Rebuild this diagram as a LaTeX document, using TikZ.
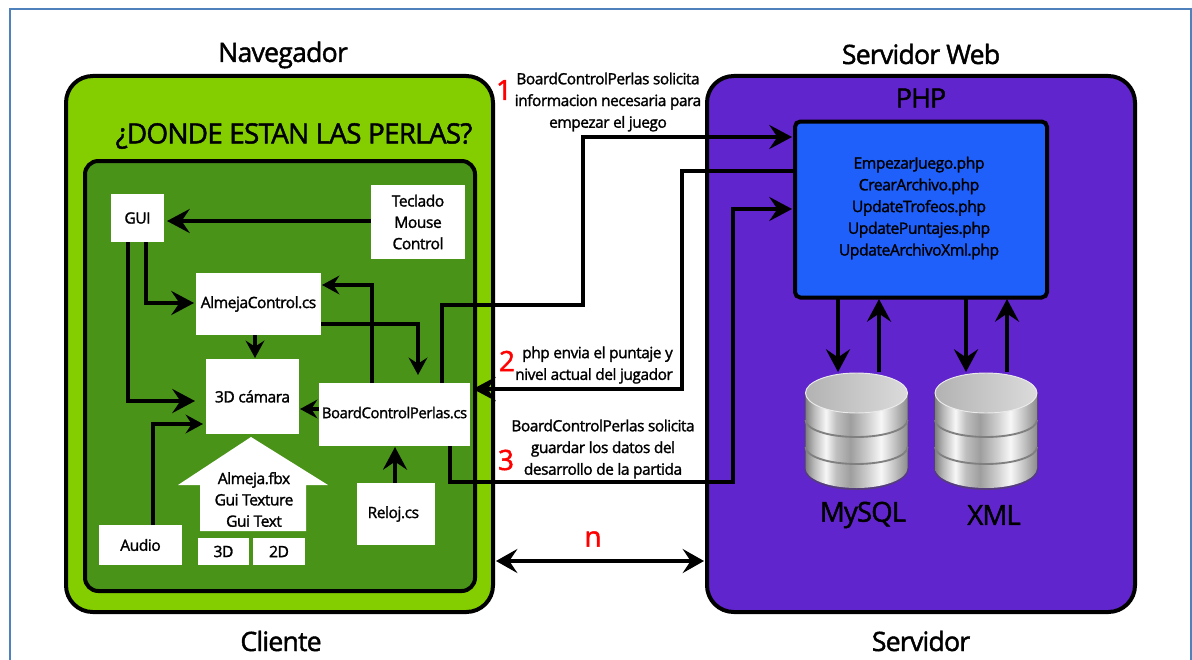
\documentclass[tikz,border=0pt]{standalone}
\usepackage{fontspec}
\setmainfont{Open Sans}[LetterSpace=-3,FakeBold=1.6]
\usetikzlibrary{arrows.meta,calc}
\definecolor{frameblue}{HTML}{4F81BD}
\definecolor{limeg}{HTML}{84CE00}
\definecolor{darkg}{HTML}{4A9319}
\definecolor{purp}{HTML}{6025CC}
\definecolor{phpblue}{HTML}{1F5FFA}
\pgfdeclarehorizontalshading{dbshade}{100bp}{
 color(0bp)=(black!50);color(25bp)=(black!50);color(29bp)=(black!28);color(35bp)=(black!3);
 color(40bp)=(black!25);color(47bp)=(black!38);color(55bp)=(black!20);color(62bp)=(black!3);
 color(68bp)=(black!22);color(75bp)=(black!45);color(100bp)=(black!45)}
\tikzset{
 x=0.75pt,y=-0.75pt,
 wbox/.style={fill=white,draw=none,inner sep=0pt,align=center,font=\fontsize{11.7}{16}\selectfont,text=black},
 conn/.style={draw=black,line width=3pt,-{Stealth[length=17pt,width=18pt,inset=6pt]}},
 connsm/.style={draw=black,line width=3pt,-{Stealth[length=13pt,width=14pt,inset=4.5pt]}},
 both/.style={draw=black,line width=3pt,{Stealth[length=16pt,width=18pt,inset=6pt]}-{Stealth[length=16pt,width=18pt,inset=6pt]}},
 title/.style={font=\fontsize{20}{24}\selectfont,text=black,inner sep=0pt},
 note/.style={font=\fontsize{11.6}{16.3}\selectfont,align=center,text=black,inner sep=0pt},
 num/.style={font=\fontsize{21}{24}\selectfont,text=red,inner sep=0pt},
 dbtext/.style={font=\fontsize{20.6}{24}\selectfont,text=black,inner sep=0pt},
}
\newcommand{\pbox}[6]{\node[wbox,minimum width=#4*0.75pt-#2*0.75pt,minimum height=#5*0.75pt-#3*0.75pt] (#1) at ({(#2+#4)/2},{(#3+#5)/2}) {#6};}
\newcommand{\dbcyl}[2]{%
 \begin{scope}[shift={(#1,#2)}]
  \fill[black!70,opacity=.6] (-52,0) -- (-52,76) arc[x radius=52,y radius=21,start angle=180,end angle=0] -- (52,0) -- cycle;
  \shade[shading=dbshade]
     (-51,0) -- (-51,75) arc[x radius=51,y radius=20,start angle=180,end angle=0] -- (51,0) -- cycle;
  \draw[black!50,line width=1.4pt] (-51,27) arc[x radius=51,y radius=17,start angle=180,end angle=0];
  \draw[black!50,line width=1.4pt] (-51,54) arc[x radius=51,y radius=17,start angle=180,end angle=0];
  \shade[left color=black!30,right color=black!14,draw=black!8,line width=.7pt]
     (0,0) ellipse[x radius=51,y radius=20];
 \end{scope}}
\begin{document}
\begin{tikzpicture}
\useasboundingbox (0,0) rectangle (1192,660);
\fill[white] (0,0) rectangle (1192,660);
\draw[frameblue,line width=1.5pt] (10,662) -- (10,9) -- (1190.5,9) -- (1190.5,662);

% containers
\draw[fill=limeg,line width=3pt,rounded corners=20pt] (66,76) rectangle (493,612);
\draw[fill=darkg,line width=3pt,rounded corners=10pt] (85,161) rectangle (475,591);
\draw[fill=purp,line width=3pt,rounded corners=20pt] (707,76) rectangle (1135,612);
\node[draw=black,fill=phpblue,line width=3pt,rounded corners=4pt,minimum width=252*0.75pt,minimum height=176*0.75pt,inner sep=0pt] (php) at (921,209.5) {};
\node[inner sep=0pt,align=center,font=\fontsize{11.8}{16.3}\selectfont] (phplist) at (919,208)
 {EmpezarJuego.php\\CrearArchivo.php\\UpdateTrofeos.php\\UpdatePuntajes.php\\UpdateArchivoXml.php};

% titles
\node[title] (tnav) at (283,55) {Navegador};
\node[title] (tsrv) at (921,54) {Servidor Web};
\node[title] (tcli) at (281,641) {Cliente};
\node[title] (tser) at (921,641) {Servidor};
\node[font=\fontsize{21}{24}\selectfont,inner sep=0pt] (tgame) at (294,136) {¿DONDE ESTAN LAS PERLAS?};
\node[font=\fontsize{20}{24}\selectfont,inner sep=0pt] (tphp) at (921,98) {PHP};

% boxes
\pbox{gui}{111}{194}{164}{242}{GUI}
\pbox{tec}{371}{185}{465}{259}{Teclado\\Mouse\\Control}
\pbox{alm}{196}{273}{321}{335}{AlmejaControl.cs}
\pbox{cam}{206}{359}{299}{434}{3D cámara}
\pbox{brd}{319}{383}{470}{446}{\fontsize{11.2}{16}\selectfont\raisebox{3pt}{BoardControlPerlas.cs}}
\pbox{rel}{357}{483}{435}{545}{\hspace*{-4pt}Reloj.cs}
\pbox{aud}{99}{525}{182}{565}{Audio}
\pbox{d3}{198}{538}{249}{565}{3D}
\pbox{d2}{253}{538}{305}{565}{2D}
\draw[fill=white,draw=none] (251,437) -- (328,485) -- (306,485) -- (306,531) -- (200,531) -- (200,485) -- (178,485) -- cycle;
\node[wbox,fill=none] (hse) at (254,499.5) {Almeja.fbx\\Gui Texture\\Gui Text};

% named connector ends
\coordinate (phpA) at (792,137);
\coordinate (phpB) at (795,171);
\coordinate (phpC) at (792,209);
\coordinate (brdIn) at (473,389);

% internal connectors
\draw[conn] (tec.west |- 0,221) -- (167,221);
\draw[conn] (128,242) -- (128,401) -- (195,401);
\draw[conn] (146,242) -- (146,303) -- (194,303);
\draw[connsm] (255,335) -- (255,358);
\draw[connsm] (319,409) -- (300,409);
\draw[connsm] (153,525) -- (153,424) -- (203,424);
\draw[conn] (395,483) -- (395,447);
\draw[connsm] (372,383) -- (372,285) -- (322,285);
\draw[connsm] (321,324) -- (418,324) -- (418,375);

% external connectors
\draw[conn] (442,383) -- (442,305) -- (583,305) -- (583,137) -- (phpA);
\draw[conn] (phpB) -- (682,171) -- (682,389) -- (brdIn);
\draw[conn] (450,446) -- (450,482) -- (733,482) -- (733,209) -- (phpC);
\draw[both] (496,561) -- (704,561);

% databases
\dbcyl{856.5}{393}
\dbcyl{986}{393}
\draw[conn] (838,297) -- (838,372);
\draw[conn] (879,372) -- (879,299);
\draw[conn] (966,297) -- (966,372);
\draw[conn] (1007,372) -- (1007,299);
\node[dbtext] (lmy) at (863,515) {MySQL};
\node[dbtext] (lxm) at (994,515) {XML};

% labels
\node[num] (n1) at (504,90) {1};
\node[num] (n2) at (507,361) {2};
\node[num] (n3) at (506,460) {3};
\node[num] (nn) at (593,539) {n};
\node[note] (l1) at (608,102) {BoardControlPerlas solicita\\informacion necesaria para\\empezar el juego};
\node[note,align=right] (l2) at (594,365) {php envia el puntaje y\\nivel actual del jugador};
\node[note] (l3) at (603,449) {BoardControlPerlas solicita\\guardar los datos del\\desarrollo de la partida};
\end{tikzpicture}
\end{document}
